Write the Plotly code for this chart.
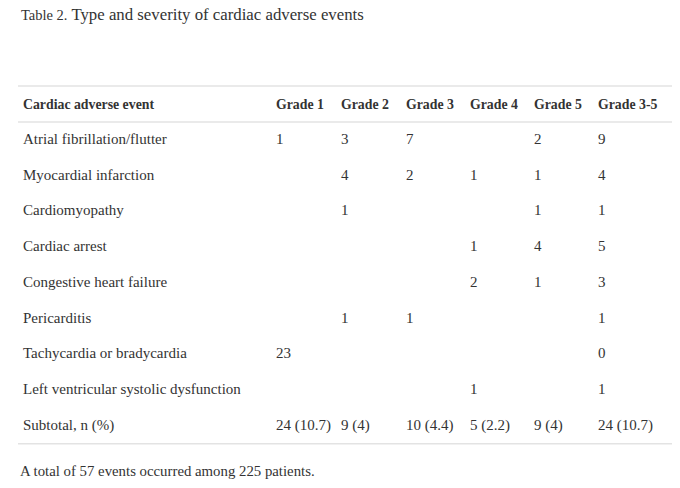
import plotly.graph_objects as go

# Table content
events = ["Atrial fibrillation/flutter", "Myocardial infarction", "Cardiomyopathy",
          "Cardiac arrest", "Congestive heart failure", "Pericarditis",
          "Tachycardia or bradycardia", "Left ventricular systolic dysfunction",
          "Subtotal, n (%)"]
grade_1 = ["1", "", "", "", "", "", "23", "", "24 (10.7)"]
grade_2 = ["3", "4", "1", "", "", "1", "", "", "9 (4)"]
grade_3 = ["7", "2", "", "", "", "1", "", "", "10 (4.4)"]
grade_4 = ["", "1", "", "1", "2", "", "", "1", "5 (2.2)"]
grade_5 = ["2", "1", "1", "4", "1", "", "", "", "9 (4)"]
grade_3_5 = ["9", "4", "1", "5", "3", "1", "0", "1", "24 (10.7)"]
headers = ["Cardiac adverse event", "Grade 1", "Grade 2", "Grade 3",
           "Grade 4", "Grade 5", "Grade 3-5"]

W, H = 680, 488
FONT = "Liberation Serif"
TXT = "#333333"
RULE = "#e3e3e3"


def px(x):
    return x / W


def py(y):
    return 1 - y / H


def nb(col):
    # keep cell text on one line
    return [s.replace(" ", "\u00a0") for s in col]


top = 86
head_h = 36
row_h = 35.75
bottom = top + head_h + row_h * len(events)

fig = go.Figure(go.Table(
    domain=dict(x=[px(15), px(672)], y=[0, py(top + 2.5)]),
    columnwidth=[253, 65, 65, 64, 64, 64, 82],
    header=dict(values=[f"<b>{h}</b>" for h in nb(headers)],
                align="left", height=head_h,
                fill_color="white", line_color="white",
                font=dict(family=FONT, size=13.8, color=TXT)),
    cells=dict(values=[nb(c) for c in [events, grade_1, grade_2, grade_3,
                                       grade_4, grade_5, grade_3_5]],
               align="left", height=row_h,
               fill_color="white", line_color="white",
               font=dict(family=FONT, size=15, color=TXT)),
))

# horizontal rules: top, below header, bottom
for ypx in [top, top + head_h, bottom]:
    fig.add_shape(type="line", xref="paper", yref="paper",
                  x0=px(18), x1=px(672), y0=py(ypx), y1=py(ypx),
                  line=dict(color=RULE, width=1.5))

fig.add_annotation(text="<span style='font-size:14.5px'>Table 2.</span> Type and severity of cardiac adverse events",
                   xref="paper", yref="paper", x=px(19), y=py(15),
                   xanchor="left", yanchor="middle", showarrow=False,
                   font=dict(family=FONT, size=16.8, color=TXT))
fig.add_annotation(text="A total of 57 events occurred among 225 patients.",
                   xref="paper", yref="paper", x=px(18), y=py(471),
                   xanchor="left", yanchor="middle", showarrow=False,
                   font=dict(family=FONT, size=14.8, color=TXT))

fig.update_layout(width=W, height=H, margin=dict(l=0, r=0, t=0, b=0),
                  paper_bgcolor="white", plot_bgcolor="white")
# drop the page's default body margin so the figure fills the window
fig.write_html("out.html", config={"displayModeBar": False},
               post_script="document.body.style.margin='0';")
